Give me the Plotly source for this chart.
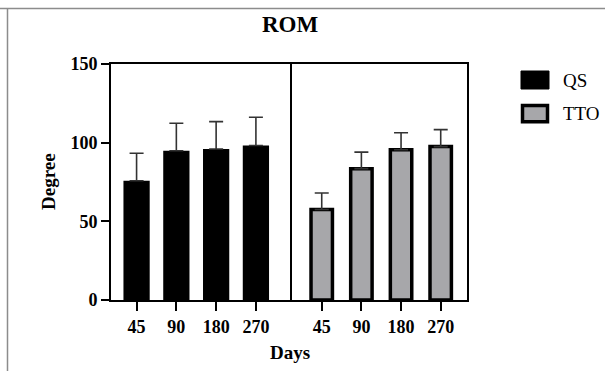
import plotly.graph_objects as go
from plotly.subplots import make_subplots

days = ["45", "90", "180", "270"]
qs_name = "QS"
tto_name = "TTO"
qs_mean = [75.8, 94.9, 96.0, 98.2]
qs_sd = [17.5, 17.4, 17.4, 18.0]
tto_mean = [57.5, 83.5, 95.5, 97.5]
tto_sd = [10.5, 10.5, 10.8, 10.8]
y_ticks = [0, 50, 100, 150]

SERIF = "Liberation Serif, Times New Roman, serif"
GRAY = "#a7a7aa"

fig = make_subplots(rows=1, cols=2, shared_yaxes=False, horizontal_spacing=0)

fig.add_trace(go.Bar(
    x=days, y=qs_mean, name=qs_name, width=0.66,
    marker=dict(color="black", line=dict(color="black", width=0)),
    error_y=dict(type="data", symmetric=False, array=qs_sd, arrayminus=[0]*len(qs_sd),
                 color="#333333", thickness=1.6, width=7),
    showlegend=False,
), row=1, col=1)

fig.add_trace(go.Bar(
    x=days, y=tto_mean, name=tto_name, width=0.54,
    marker=dict(color=GRAY, line=dict(color="black", width=3.5)),
    error_y=dict(type="data", symmetric=False, array=tto_sd, arrayminus=[0]*len(tto_sd),
                 color="#333333", thickness=1.6, width=7),
    showlegend=False,
), row=1, col=2)

L, R, T, B = 111, 138, 64, 71
W, H = 605, 371
pw = W - L - R
ph = H - T - B
split = (290 - L) / pw

def px_x(px):
    return (px - L) / pw

def px_y(py):
    return (H - B - py) / ph

axis_font = dict(family=SERIF, size=18, color="black", weight="bold")

common_x = dict(type="category", showline=True, linecolor="black", linewidth=2,
                mirror=True, ticks="outside", ticklen=9, tickwidth=2, tickcolor="black",
                tickfont=axis_font, showgrid=False, zeroline=False)
fig.update_xaxes(**common_x)
fig.update_layout(
    xaxis=dict(domain=[0, split], range=[-0.643, 3.857]),
    xaxis2=dict(domain=[split, 1], range=[-0.80, 3.663]),
    yaxis=dict(range=[0, 150], tickvals=y_ticks, showline=True, linecolor="black",
               linewidth=2, mirror=True, ticks="outside", ticklen=8, tickwidth=2,
               tickcolor="black", tickfont=axis_font, showgrid=False, zeroline=False),
    yaxis2=dict(range=[0, 150], matches="y", showline=True, linecolor="black",
                linewidth=2, mirror=False, side="right", ticks="", showticklabels=False,
                showgrid=False, zeroline=False),
)

shapes = [
    # outer frame lines of the figure image
    dict(type="line", xref="paper", yref="paper", x0=px_x(0), x1=px_x(W), y0=px_y(8.5), y1=px_y(8.5),
         line=dict(color="#8c8c8c", width=1.5)),
    dict(type="line", xref="paper", yref="paper", x0=px_x(7.5), x1=px_x(7.5), y0=px_y(8.5), y1=px_y(H),
         line=dict(color="#8c8c8c", width=1.5)),
    # legend boxes
    dict(type="rect", xref="paper", yref="paper", x0=px_x(521), x1=px_x(549), y0=px_y(71), y1=px_y(89),
         fillcolor="black", line=dict(color="black", width=1)),
    dict(type="rect", xref="paper", yref="paper", x0=px_x(522.5), x1=px_x(547.5), y0=px_y(105.5), y1=px_y(121.8),
         fillcolor=GRAY, line=dict(color="black", width=3.5)),
]

annotations = [
    dict(text=qs_name, xref="paper", yref="paper", x=px_x(561), y=px_y(80), xanchor="left",
         yanchor="middle", showarrow=False, font=dict(family=SERIF, size=19, color="black")),
    dict(text=tto_name, xref="paper", yref="paper", x=px_x(561), y=px_y(113.5), xanchor="left",
         yanchor="middle", showarrow=False, font=dict(family=SERIF, size=19, color="black")),
    dict(text="Degree", xref="paper", yref="paper", x=px_x(48), y=0.5, textangle=-90,
         xanchor="center", yanchor="middle", showarrow=False,
         font=dict(family=SERIF, size=19, color="black", weight="bold")),
    dict(text="Days", xref="paper", yref="paper", x=px_x(290), y=px_y(352),
         xanchor="center", yanchor="middle", showarrow=False,
         font=dict(family=SERIF, size=19, color="black", weight="bold")),
]

fig.update_layout(
    width=W, height=H,
    margin=dict(l=L, r=R, t=T, b=B),
    paper_bgcolor="white", plot_bgcolor="white",
    title=dict(text="ROM", x=290 / W, xref="container", xanchor="center",
               y=1 - 24 / H, yref="container", yanchor="middle",
               font=dict(family=SERIF, size=23, color="black", weight="bold")),
    shapes=shapes, annotations=annotations,
    bargap=0.3,
)

fig.write_html("out.html", config={"displayModeBar": False},
               post_script="document.body.style.margin='0';document.body.style.padding='0';")
